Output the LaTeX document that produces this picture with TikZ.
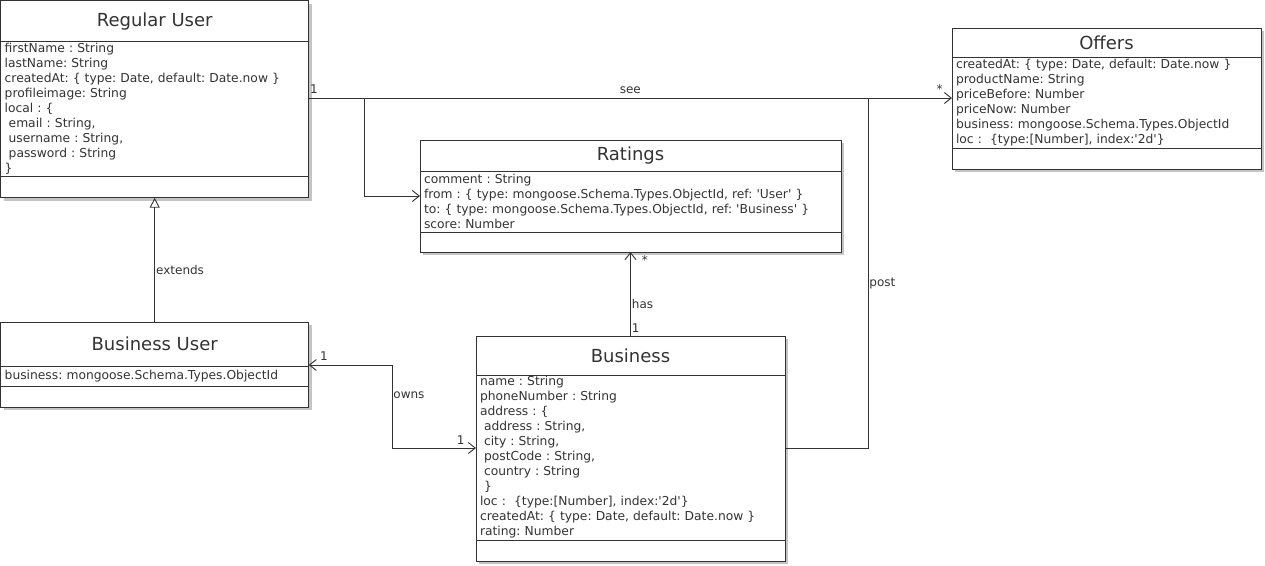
\documentclass[tikz,border=0pt]{standalone}
\usepackage{fontspec}
\setmainfont{DejaVu Sans}
\usetikzlibrary{arrows.meta,positioning,backgrounds}
\definecolor{umlline}{HTML}{333333}
\definecolor{umlshadow}{HTML}{C4C4C4}
\frenchspacing
\tikzset{
  classhead/.style={draw=umlline, fill=white, text=umlline, inner sep=0pt, outer sep=0pt,
    font=\fontsize{18}{20}\selectfont, anchor=north west},
  classattr/.style={draw=umlline, fill=white, text=umlline, inner xsep=4pt, outer sep=0pt,
    inner ysep=0pt, align=left, font=\fontsize{12.3}{15}\selectfont},
  classfoot/.style={draw=umlline, fill=white, inner sep=0pt, outer sep=0pt},
  barb/.tip={Straight Barb[length=7pt,width=11pt]},
  assoc/.style={draw=umlline, -barb},
  assocboth/.style={draw=umlline, barb-barb},
  extends/.style={draw=umlline, -{Triangle[open,length=10pt,width=10pt]}},
  lbl/.style={text=umlline, inner sep=1pt, font=\fontsize{12}{14}\selectfont},
}
\begin{document}
\begin{tikzpicture}[x=1pt, y=-1pt, line width=0.9pt]
    \useasboundingbox (0,0) rectangle (1265,565);
    % Regular User
    \node[classhead, minimum width=308pt, minimum height=41pt] (ruhead) at (0.7,0.7) {Regular User};
    \node[classattr, text width=300pt, minimum height=135pt, below=0pt of ruhead] (ruattr)
      {firstName : String\\lastName: String\\createdAt: \{ type: Date, default: Date.now \}\\
       profileimage: String\\local : \{\\\hspace{4pt}email : String,\\\hspace{4pt}username : String,\\
       \hspace{4pt}password : String\\\}};
    \node[classfoot, minimum width=308pt, minimum height=21pt, below=0pt of ruattr] (rufoot) {};
    % Offers
    \node[classhead, minimum width=309pt, minimum height=29pt] (offhead) at (952,28) {Offers};
    \node[classattr, text width=301pt, minimum height=91pt, below=0pt of offhead] (offattr)
      {createdAt: \{ type: Date, default: Date.now \}\\productName: String\\priceBefore: Number\\
       priceNow: Number\\business: mongoose.Schema.Types.ObjectId\\
       loc :\ \ \{type:[Number], index:\textquotesingle 2d\textquotesingle\}};
    \node[classfoot, minimum width=309pt, minimum height=21pt, below=0pt of offattr] (offfoot) {};
    % Ratings
    \node[classhead, minimum width=421pt, minimum height=31pt] (rathead) at (420,140) {Ratings};
    \node[classattr, text width=413pt, minimum height=61pt, below=0pt of rathead] (ratattr)
      {comment : String\\
       from : \{ type: mongoose.Schema.Types.ObjectId, ref: \textquotesingle User\textquotesingle\ \}\\
       to: \{ type: mongoose.Schema.Types.ObjectId, ref: \textquotesingle Business\textquotesingle\ \}\\
       score: Number};
    \node[classfoot, minimum width=421pt, minimum height=20pt, below=0pt of ratattr] (ratfoot) {};
    % Business User
    \node[classhead, minimum width=308pt, minimum height=44pt] (buhead) at (0.7,322) {Business User};
    \node[classattr, text width=300pt, minimum height=20pt, below=0pt of buhead] (buattr)
      {business: mongoose.Schema.Types.ObjectId};
    \node[classfoot, minimum width=308pt, minimum height=21pt, below=0pt of buattr] (bufoot) {};
    % Business
    \node[classhead, minimum width=309pt, minimum height=39pt] (bizhead) at (476,336) {Business};
    \node[classattr, text width=301pt, minimum height=165pt, below=0pt of bizhead] (bizattr)
      {name : String\\phoneNumber : String\\address : \{\\\hspace{4pt}address : String,\\
       \hspace{4pt}city : String,\\\hspace{4pt}postCode : String,\\\hspace{4pt}country : String\\
       \hspace{4pt}\}\\loc :\ \ \{type:[Number], index:\textquotesingle 2d\textquotesingle\}\\
       createdAt: \{ type: Date, default: Date.now \}\\rating: Number};
    \node[classfoot, minimum width=309pt, minimum height=21pt, below=0pt of bizattr] (bizfoot) {};
    % shadows
    \begin{scope}[on background layer]
      \foreach \c in {ru,off,rat,bu,biz}
        \fill[umlshadow] ([shift={(3pt,-3pt)}]\c head.north west) rectangle ([shift={(3pt,-3pt)}]\c foot.south east);
    \end{scope}
    % bends
    \coordinate (seerow) at (0,98);
    \coordinate (ratbranch) at (364,196);
    \coordinate (postbend) at (868,448);
    \coordinate (ownsbend) at (392,365);
    % associations
    \draw[assoc] (ruattr.east |- seerow)
      node[lbl, anchor=south west, yshift=3pt] {1}
      -- node[lbl, above, yshift=3pt] {see}
      (offattr.west |- seerow)
      node[lbl, anchor=south east, xshift=-8pt, yshift=3pt] {*};
    \draw[assoc] (ratbranch |- seerow) -- (ratbranch) -- (ratattr.west |- ratbranch);
    \draw[draw=umlline] (bizattr.east |- postbend) -- (postbend)
      -- node[lbl, right, pos=0.47] {post} (postbend |- seerow);
    \draw[assoc] (bizhead.north) node[lbl, anchor=south west, yshift=2pt] {1}
      -- node[lbl, right, pos=0.38] {has} (ratfoot.south)
      node[lbl, anchor=north west, xshift=10pt, yshift=-2pt] {*};
    \draw[assocboth] (bizattr.west |- postbend)
      node[lbl, anchor=south east, xshift=-10pt, yshift=2pt] {1}
      -- (ownsbend |- postbend) -- node[lbl, right, pos=0.64] {owns} (ownsbend)
      -- (buhead.east |- ownsbend)
      node[lbl, anchor=south west, xshift=10pt, yshift=3pt] {1};
    \draw[extends] (buhead.north) -- node[lbl, right, pos=0.42] {extends} (rufoot.south);
\end{tikzpicture}
\end{document}
